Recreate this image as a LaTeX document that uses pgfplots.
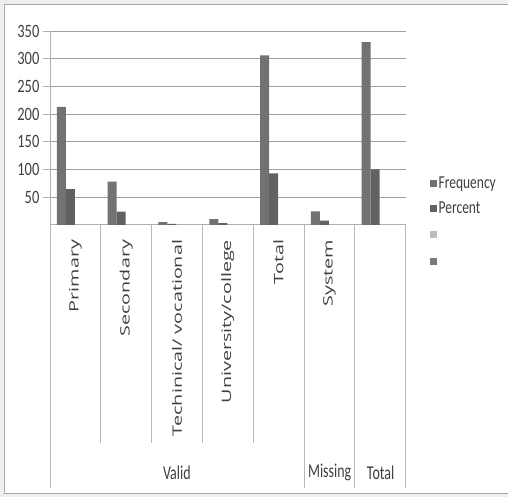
\documentclass[border=0pt]{standalone}
\usepackage{pgfplots}
\pgfplotsset{compat=1.18}
\usepackage{graphicx}
\usepackage{fontspec}
\setmainfont{Carlito}
\newfontfamily\catfont{Open Sans}

\definecolor{bgc}{HTML}{EEEEEE}
\definecolor{framec}{HTML}{A8A8A8}
\definecolor{freqc}{HTML}{727272}
\definecolor{pctc}{HTML}{616161}
\definecolor{thirdc}{HTML}{BDBDBD}
\definecolor{fourthc}{HTML}{7A7A7A}
\definecolor{gridc}{HTML}{A0A0A0}
\definecolor{axisc}{HTML}{B0B0B0}
\definecolor{sepc}{HTML}{B8B8B8}
\definecolor{textc}{HTML}{404040}

\newcommand{\tall}[2][1.35]{\scalebox{1}[#1]{#2}}
\newcommand{\catlabel}[1]{\catfont\fontsize{13}{13}\selectfont\scalebox{1.52}[1]{#1}}

\begin{document}
\begin{tikzpicture}[x=1pt,y=1pt]
% page background and frame
\fill[bgc] (0,0) rectangle (508,497);
\fill[white] (5,3) rectangle (508,492);
\draw[framec, line width=1pt] (508,492) -- (5,492) -- (5,3) -- (508,3);

\begin{axis}[
  at={(50pt,272pt)}, anchor=south west,
  scale only axis, width=356pt, height=194pt,
  xmin=-0.5, xmax=6.5, ymin=0, ymax=350,
  xtick=\empty,
  ytick={50,100,...,350},
  /pgf/number format/assume math mode=true,
  yticklabel={\tall[1.3]{\pgfmathprintnumber{\tick}}},
  yticklabel style={font=\fontsize{14.5}{15}\selectfont, text=textc},
  axis x line=bottom, axis y line=left,
  axis line style={-, draw=axisc, line width=0.8pt},
  tick align=outside, major tick length=7pt,
  tick style={draw=axisc, line width=0.8pt},
  ymajorgrids, grid style={draw=gridc, line width=0.9pt},
  clip=false,
  legend image code/.code={\path[#1, draw=none] (0pt,-3.5pt) rectangle (7pt,3.5pt);},
  legend style={at={(1.067,0.258)}, anchor=north west, draw=none, fill=none,
    font=\fontsize{13.5}{14}\selectfont, text=textc,
    row sep=8pt, inner sep=0pt,
    /tikz/every even column/.append style={column sep=2pt}},
  legend cell align=left,
]
\addplot[ybar, bar width=9pt, bar shift=-14pt, fill=freqc, draw=none]
  coordinates {(0,213) (1,78) (2,5) (3,10) (4,306) (5,24) (6,330)};
\addlegendentry{\tall{Frequency}}
\addplot[ybar, bar width=9pt, bar shift=-5pt, fill=pctc, draw=none]
  coordinates {(0,64.5) (1,23.6) (2,1.5) (3,3.0) (4,92.7) (5,7.3) (6,100)};
\addlegendentry{\tall{Percent}}
\addlegendimage{fill=thirdc, draw=none}
\addlegendentry{\tall{\strut}}
\addlegendimage{fill=fourthc, draw=none}
\addlegendentry{\tall{\strut}}
\end{axis}

% category separators below the baseline
\foreach \x in {100.86,151.71,202.57,253.43}
  \draw[sepc, line width=0.8pt] (\x,272) -- (\x,54);
\foreach \x in {50,304.29,355.14,406}
  \draw[sepc, line width=0.8pt] (\x,272) -- (\x,9);

% inner category labels
\begin{scope}[every node/.style={rotate=90, anchor=east, inner sep=0pt, text=textc}]
\node at (75.4,257) {\catlabel{Primary}};
\node at (126.3,257) {\catlabel{Secondary}};
\node at (177.1,257) {\catlabel{Techinical/ vocational}};
\node at (228.0,257) {\catlabel{University/college}};
\node at (278.9,257) {\catlabel{Total}};
\node at (329.7,257) {\catlabel{System}};
\end{scope}

% outer group labels
\begin{scope}[every node/.style={font=\fontsize{14}{14}\selectfont, text=textc, inner sep=0pt}]
\node at (177,24) {\tall[1.4]{Valid}};
\node at (330,24) {\tall[1.4]{Missing}};
\node at (381,24) {\tall[1.4]{Total}};
\end{scope}
\end{tikzpicture}
\end{document}
